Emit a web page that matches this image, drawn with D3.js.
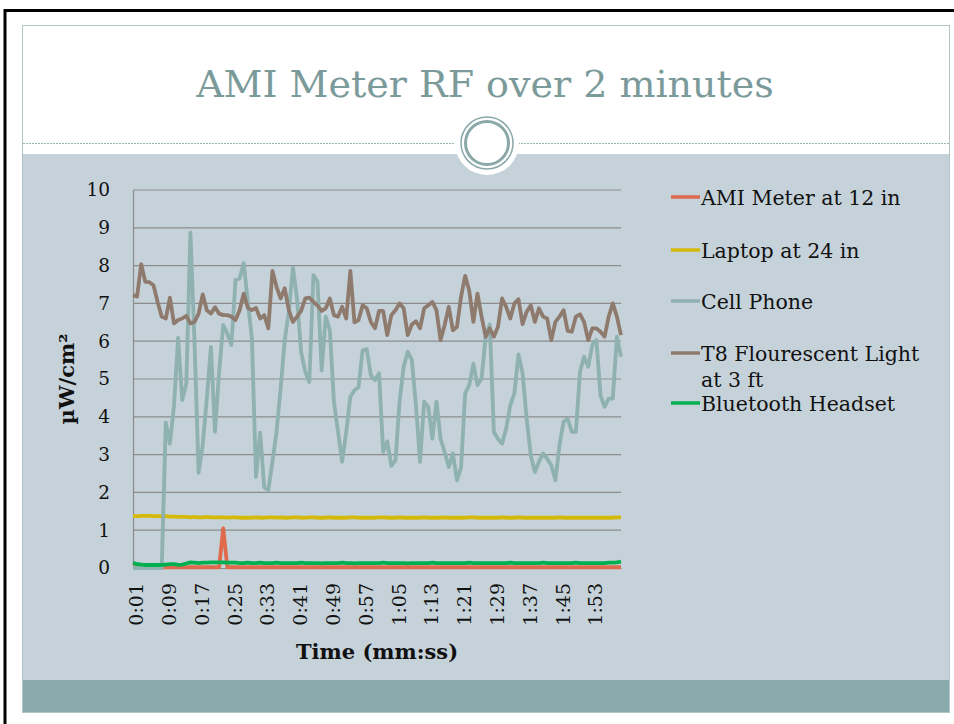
<html lang="en">
<head>
<meta charset="utf-8">
<script src="https://d3js.org/d3.v7.min.js"></script>
<style>
  body { margin: 0; background: #fff; }
  text { font-family: "DejaVu Serif", serif; }
</style>
</head>
<body>
<div id="graph"></div>
<script>

// categories: one reading per second, 0:01 .. 2:00
var times = d3.range(1, 121).map(function(s){ return Math.floor(s/60) + ":" + d3.format("02")(s%60) })
var tickLabels = ["0:01","0:09","0:17","0:25","0:33","0:41","0:49","0:57","1:05","1:13","1:21","1:29","1:37","1:45","1:53"]
var yTicks = [0,1,2,3,4,5,6,7,8,9,10]

var seriesNames = ["AMI Meter at 12 in","Laptop at 24 in","Cell Phone","T8 Flourescent Light at 3 ft","Bluetooth Headset"]

var amiMeter = [0.02,0.02,0.02,0.02,0.02,0.02,0.02,0.02,0.02,0.02,0.02,0.02,0.02,0.02,0.02,0.02,0.02,0.02,0.02,0.02,
  0.02,0.02,1.05,0.02,0.02,0.02,0.02,0.02,0.02,0.02,0.02,0.02,0.02,0.02,0.02,0.02,0.02,0.02,0.02,0.02,
  0.02,0.02,0.02,0.02,0.02,0.02,0.02,0.02,0.02,0.02,0.02,0.02,0.02,0.02,0.02,0.02,0.02,0.02,0.02,0.02,
  0.02,0.02,0.02,0.02,0.02,0.02,0.02,0.02,0.02,0.02,0.02,0.02,0.02,0.02,0.02,0.02,0.02,0.02,0.02,0.02,
  0.02,0.02,0.02,0.02,0.02,0.02,0.02,0.02,0.02,0.02,0.02,0.02,0.02,0.02,0.02,0.02,0.02,0.02,0.02,0.02,
  0.02,0.02,0.02,0.02,0.02,0.02,0.02,0.02,0.02,0.02,0.02,0.02,0.02,0.02,0.02,0.02,0.02,0.02,0.02,0.02]

var laptop = [1.37,1.37,1.38,1.38,1.38,1.37,1.37,1.37,1.37,1.36,1.36,1.35,1.35,1.35,1.34,1.35,1.34,1.34,1.35,1.34,
  1.34,1.34,1.34,1.33,1.34,1.34,1.33,1.33,1.33,1.33,1.34,1.33,1.33,1.34,1.34,1.33,1.34,1.33,1.33,1.34,
  1.34,1.33,1.33,1.34,1.34,1.33,1.33,1.33,1.34,1.33,1.33,1.33,1.33,1.34,1.34,1.33,1.33,1.33,1.33,1.33,
  1.34,1.34,1.33,1.33,1.33,1.34,1.33,1.33,1.33,1.33,1.33,1.34,1.33,1.33,1.33,1.33,1.34,1.33,1.33,1.33,
  1.33,1.33,1.34,1.34,1.33,1.33,1.33,1.33,1.33,1.33,1.34,1.33,1.33,1.33,1.34,1.33,1.33,1.33,1.33,1.33,
  1.33,1.33,1.33,1.33,1.34,1.33,1.33,1.33,1.33,1.33,1.33,1.33,1.33,1.33,1.33,1.33,1.33,1.33,1.34,1.34]

var cellPhone = [0,0,0,0,0,0,0,0,3.85,3.29,4.3,6.09,4.44,4.88,8.87,5.98,2.52,3.25,4.48,5.85,
  3.6,5.19,6.43,6.2,5.9,7.62,7.66,8.06,7.04,6.07,2.41,3.58,2.14,2.06,2.81,3.6,4.75,6.03,6.78,7.94,
  7.13,5.72,5.19,4.92,7.75,7.57,5.23,6.65,6.29,4.4,3.6,2.81,3.6,4.53,4.7,4.79,5.76,5.79,5.1,4.97,
  5.15,3.07,3.35,2.7,2.85,4.4,5.33,5.72,5.5,4.3,2.81,4.4,4.26,3.42,4.4,3.42,3.07,2.67,3.03,2.32,
  2.67,4.62,4.84,5.41,4.84,5.01,6.12,6.44,3.6,3.42,3.29,3.69,4.3,4.62,5.65,5.15,3.95,2.98,2.54,2.81,
  3.03,2.89,2.72,2.32,3.25,3.87,3.95,3.6,3.6,5.19,5.59,5.32,5.9,6.03,4.57,4.26,4.48,4.48,6.12,5.59]

var t8Light = [7.22,7.18,8.04,7.57,7.56,7.48,7.04,6.65,6.6,7.15,6.47,6.56,6.6,6.67,6.47,6.51,6.73,7.24,6.82,6.73,
  6.9,6.73,6.69,6.69,6.65,6.56,6.82,7.26,6.88,6.82,6.88,6.6,6.69,6.34,7.86,7.44,7.13,7.4,6.82,6.51,
  6.65,6.8,7.13,7.15,7.04,6.94,6.8,6.87,7.13,6.69,6.65,6.91,6.6,7.86,6.5,6.56,6.95,6.87,6.51,6.34,
  6.8,6.8,6.16,6.69,6.82,7.0,6.87,6.16,6.44,6.53,6.34,6.87,6.95,7.04,6.82,6.03,6.43,6.91,6.29,6.38,
  7.18,7.73,7.33,6.51,7.26,6.65,6.12,6.34,6.12,6.38,7.13,6.91,6.6,7.0,7.11,6.45,6.78,6.95,6.51,6.87,
  6.65,6.6,6.03,6.51,6.65,6.82,6.27,6.25,6.65,6.71,6.51,6.03,6.34,6.34,6.25,6.12,6.65,7.0,6.65,6.16]

var bluetooth = [0.14,0.1,0.09,0.08,0.08,0.08,0.08,0.08,0.09,0.1,0.1,0.08,0.09,0.12,0.15,0.14,0.13,0.14,0.14,0.15,
  0.15,0.15,0.15,0.14,0.14,0.14,0.13,0.13,0.14,0.13,0.13,0.14,0.13,0.13,0.13,0.14,0.13,0.13,0.13,0.13,
  0.13,0.14,0.13,0.13,0.13,0.13,0.12,0.13,0.13,0.13,0.13,0.14,0.13,0.13,0.12,0.13,0.13,0.13,0.13,0.13,
  0.13,0.14,0.13,0.13,0.13,0.13,0.13,0.12,0.13,0.13,0.13,0.13,0.13,0.14,0.13,0.13,0.13,0.13,0.13,0.13,
  0.13,0.13,0.14,0.13,0.13,0.13,0.13,0.13,0.13,0.13,0.13,0.13,0.14,0.13,0.13,0.13,0.13,0.13,0.13,0.13,
  0.14,0.13,0.13,0.13,0.13,0.13,0.13,0.13,0.14,0.13,0.13,0.13,0.13,0.13,0.13,0.13,0.14,0.14,0.15,0.17]

var seriesColors = ["#df6a4c","#d4b90a","#8fb1b0","#8f7a6e","#00b050"]
var series = [amiMeter, laptop, cellPhone, t8Light, bluetooth]

var svg = d3.select('#graph').append('svg').attr('width',954).attr('height',724)

// slide frame
svg.append('rect').attr('width',954).attr('height',724).attr('fill','#fff')
svg.append('rect').attr('x',22.5).attr('y',25.5).attr('width',927).attr('height',687)
  .attr('fill','#fff').attr('stroke','#b3c6c6')
svg.append('rect').attr('x',23).attr('y',154).attr('width',926).attr('height',526).attr('fill','#c6d2d9')
svg.append('rect').attr('x',23).attr('y',680).attr('width',926).attr('height',32).attr('fill','#8aabab')
svg.append('path').attr('d','M5,724V10.5H954').attr('fill','none').attr('stroke','#000').attr('stroke-width',3)

svg.append('line').attr('x1',23).attr('x2',949).attr('y1',143.5).attr('y2',143.5)
  .attr('stroke','#9ab3b3').attr('stroke-dasharray','2,1')
svg.append('circle').attr('cx',487).attr('cy',143).attr('r',32).attr('fill','#fff')
svg.append('circle').attr('cx',487).attr('cy',143).attr('r',26).attr('fill','none')
  .attr('stroke','#8aa8a8').attr('stroke-width',1.5)
svg.append('circle').attr('cx',487).attr('cy',143).attr('r',21.5).attr('fill','none')
  .attr('stroke','#8aa8a8').attr('stroke-width',3)

svg.append('text').attr('x',485).attr('y',97).attr('text-anchor','middle')
  .style('font-size','38px').attr('fill','#7b9a9a').text('AMI Meter RF over 2 minutes')

// chart
var xScale = d3.scalePoint().domain(times).range([133,621])
var yScale = d3.scaleLinear().domain([0,10]).range([568,190])

var grid = svg.append('g')
grid.selectAll('line').data(yTicks.slice(1)).enter().append('line')
  .attr('x1',133).attr('x2',621)
  .attr('y1',function(d){ return yScale(d) }).attr('y2',function(d){ return yScale(d) })
  .attr('stroke','#8c8c8c').attr('stroke-width',1.2)

var yAxis = svg.append('g').attr('transform','translate(133,0)')
  .call(d3.axisLeft(yScale).tickValues(yTicks).tickSize(0).tickPadding(23).tickFormat(d3.format('d')))
yAxis.select('.domain').attr('stroke','#8c8c8c').attr('stroke-width',1.2)
yAxis.selectAll('text').style('font-size','18.5px').style('font-family','DejaVu Serif').attr('fill','#111')

var xAxis = svg.append('g').attr('transform','translate(0,568)')
  .call(d3.axisBottom(xScale).tickValues(tickLabels).tickSize(0))
xAxis.select('.domain').attr('stroke','#8c8c8c').attr('stroke-width',1.2)
xAxis.selectAll('text')
  .attr('transform','rotate(-90)').attr('text-anchor','end')
  .attr('x',-15).attr('y',3).attr('dy','0.35em')
  .style('font-size','19px').style('font-family','DejaVu Serif').attr('fill','#111')

var line = d3.line()
  .x(function(d,i){ return xScale(times[i]) })
  .y(function(d){ return yScale(d) })

svg.append('g').selectAll('path').data(series).enter().append('path')
  .attr('d',line).attr('fill','none')
  .attr('stroke',function(d,i){ return seriesColors[i] })
  .attr('stroke-width',3.8).attr('stroke-linejoin','round')

svg.append('text').attr('x',377).attr('y',659).attr('text-anchor','middle')
  .style('font-size','21px').style('font-weight','bold').attr('fill','#111').text('Time (mm:ss)')
svg.append('text').attr('transform','translate(74,379) rotate(-90)').attr('text-anchor','middle')
  .style('font-size','21px').style('font-weight','bold').attr('fill','#111').text('µW/cm²')

// legend
var legendY = [197,250,301,353,403]
var legend = svg.append('g').selectAll('g').data(seriesNames).enter().append('g')
  .attr('transform',function(d,i){ return 'translate(671,' + legendY[i] + ')' })
legend.append('line').attr('x1',0).attr('x2',29)
  .attr('stroke',function(d,i){ return seriesColors[i] }).attr('stroke-width',3.5)
legend.append('text').attr('x',30).attr('y',8)
  .style('font-size','20.5px').attr('fill','#111')
  .each(function(d){
    var t = d3.select(this)
    var parts = d == "T8 Flourescent Light at 3 ft" ? ["T8 Flourescent Light","at 3 ft"] : [d]
    parts.forEach(function(p,k){
      t.append('tspan').attr('x',30).attr('dy',k ? 26 : 0).text(p)
    })
  })

</script>
</body>
</html>
